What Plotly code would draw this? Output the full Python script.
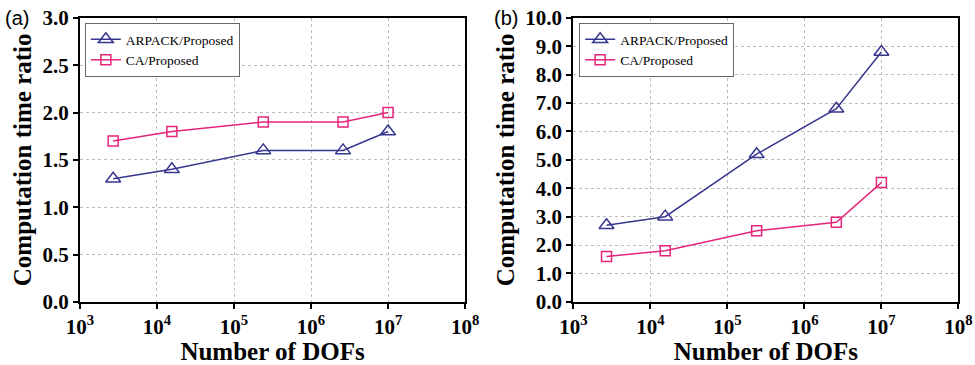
import plotly.graph_objects as go

dofs = [2700, 15600, 240000, 2600000, 10000000]
arpack_a = [1.3, 1.4, 1.6, 1.6, 1.8]
ca_a = [1.7, 1.8, 1.9, 1.9, 2.0]
arpack_b = [2.7, 3.0, 5.2, 6.8, 8.8]
ca_b = [1.6, 1.8, 2.5, 2.8, 4.2]
x_tickvals = [1e3, 1e4, 1e5, 1e6, 1e7, 1e8]
x_ticktext = ["10<sup>3</sup>", "10<sup>4</sup>", "10<sup>5</sup>", "10<sup>6</sup>", "10<sup>7</sup>", "10<sup>8</sup>"]

NAVY = "#36368f"
PINK = "#e6247a"
FONT = "Liberation Serif"

fig = go.Figure()

def add_traces(xa, ya, arp, ca, legend):
    fig.add_trace(go.Scatter(x=dofs, y=arp, mode="lines+markers", name="ARPACK/Proposed",
                             line=dict(color=NAVY, width=1.5),
                             marker=dict(symbol="triangle-up-open", size=13, color=NAVY, line=dict(width=1.5)),
                             xaxis=xa, yaxis=ya, legend=legend))
    fig.add_trace(go.Scatter(x=dofs, y=ca, mode="lines+markers", name="CA/Proposed",
                             line=dict(color=PINK, width=1.5),
                             marker=dict(symbol="square-open", size=10, color=PINK, line=dict(width=1.5)),
                             xaxis=xa, yaxis=ya, legend=legend))

add_traces("x", "y", arpack_a, ca_a, "legend")
add_traces("x2", "y2", arpack_b, ca_b, "legend2")

xcommon = dict(type="log", range=[3, 8], tickvals=x_tickvals, ticktext=x_ticktext,
               showline=True, linecolor="black", linewidth=2, mirror=True,
               ticks="outside", ticklen=5, tickwidth=2, tickcolor="black",
               showgrid=True, gridcolor="#bdbdbd", griddash="dot", gridwidth=1,
               tickfont=dict(family=FONT, size=21, color="black", weight="bold"),
               title=dict(text="<b>Number of DOFs</b>", font=dict(family=FONT, size=25, color="black"), standoff=6),
               zeroline=False, automargin=False)
ycommon = dict(showline=True, linecolor="black", linewidth=2, mirror=True,
               ticks="outside", ticklen=5, tickwidth=2, tickcolor="black",
               showgrid=True, gridcolor="#bdbdbd", griddash="dot", gridwidth=1,
               tickformat=".1f",
               tickfont=dict(family=FONT, size=21, color="black", weight="bold"),
               title=dict(text="<b>Computation time ratio</b>", font=dict(family=FONT, size=25, color="black"), standoff=4),
               zeroline=False, automargin=False)

legend_common = dict(xanchor="left", yanchor="top", bgcolor="white",
                     bordercolor="#666666", borderwidth=1,
                     font=dict(family=FONT, size=13.5, color="black"),
                     tracegroupgap=0, itemwidth=30)

fig.update_layout(
    width=975, height=365,
    margin=dict(l=0, r=0, t=0, b=0),
    plot_bgcolor="white", paper_bgcolor="white",
    xaxis=dict(domain=[0.082, 0.477], anchor="y", **xcommon),
    yaxis=dict(domain=[0.173, 0.951], anchor="x", range=[0, 3], dtick=0.5, **ycommon),
    xaxis2=dict(domain=[0.588, 0.983], anchor="y2", **xcommon),
    yaxis2=dict(domain=[0.173, 0.951], anchor="x2", range=[0, 10], dtick=1, **ycommon),
    legend=dict(x=0.087, y=0.937, **legend_common),
    legend2=dict(x=0.594, y=0.937, **legend_common),
    showlegend=True,
)

ann = [
    ("x", "y", dofs[-1], ca_a[-1], "2.0", PINK, 10, 14),
    ("x", "y", dofs[-1], arpack_a[-1], "1.8", NAVY, 12, 0),
    ("x2", "y2", dofs[-1], arpack_b[-1], "8.8", NAVY, 8, 15),
    ("x2", "y2", dofs[-1], ca_b[-1], "4.2", PINK, 8, 15),
]
for xr, yr, xv, yv, t, c, xs, ys in ann:
    fig.add_annotation(x=xv, y=yv, xref=xr, yref=yr, text=t, showarrow=False,
                       xanchor="left", yanchor="middle", xshift=xs, yshift=ys,
                       font=dict(family=FONT, size=17, color=c))

fig.add_annotation(x=0.003, y=0.951, xref="paper", yref="paper", text="(a)", showarrow=False,
                   xanchor="left", yanchor="middle", font=dict(family="Liberation Sans", size=20, color="black"))
fig.add_annotation(x=0.505, y=0.951, xref="paper", yref="paper", text="(b)", showarrow=False,
                   xanchor="left", yanchor="middle", font=dict(family="Liberation Sans", size=20, color="black"))

fig.write_html("out.html")
